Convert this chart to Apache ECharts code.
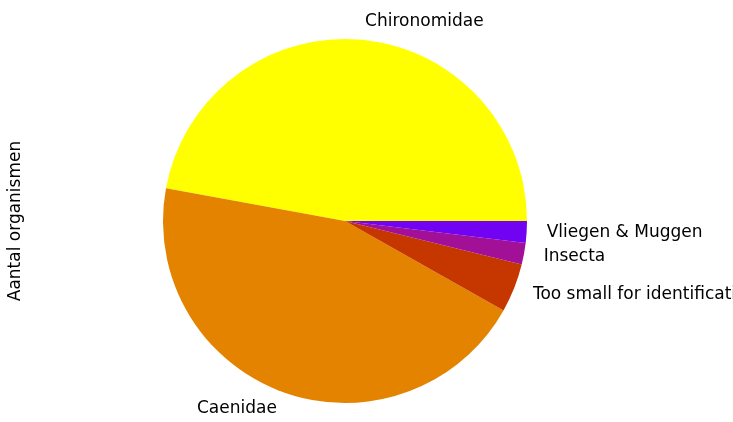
<!DOCTYPE html>
<html>
<head>
<meta charset="utf-8">
<script src="https://cdn.jsdelivr.net/npm/echarts@6/dist/echarts.min.js"></script>
<style>
  html, body { margin: 0; padding: 0; background: #fff; }
  #main { width: 733px; height: 422px; }
</style>
</head>
<body>
<div id="main"></div>
<script>
"use strict";
// taxa en aantallen
var categories = ["Chironomidae", "Caenidae", "Too small for identification", "Insecta", "Vliegen & Muggen"];
var counts = [98, 93, 9, 4, 4];
var colors = ["#ffff00", "#e48300", "#c63700", "#a11096", "#7202f2"];
var yLabel = "Aantal organismen";

var chartDom = document.getElementById('main');
var myChart = echarts.init(chartDom, null, { renderer: 'canvas' });

var pieData = categories.map(function (name, i) {
    return { name: name, value: counts[i], itemStyle: { color: colors[i] } };
});

var option = {
    animation: false,
    backgroundColor: '#ffffff',
    graphic: [{
        type: 'text',
        x: 16,
        y: 221,
        rotation: Math.PI / 2,
        style: {
            text: yLabel,
            font: '17px "DejaVu Sans"',
            fill: '#000',
            align: 'center',
            verticalAlign: 'middle'
        }
    }],
    series: [{
        type: 'pie',
        center: [345, 221],
        radius: 182,
        startAngle: 0,
        clockwise: false,
        avoidLabelOverlap: false,
        minShowLabelAngle: 0,
        data: pieData,
        itemStyle: { borderWidth: 0 },
        emphasis: { disabled: true },
        label: {
            show: true,
            position: 'outside',
            formatter: '{b}',
            fontFamily: 'DejaVu Sans',
            fontSize: 17,
            color: '#000',
            overflow: 'none',
            distanceToLabelLine: 0,
            padding: [4, 0, 0, 2]
        },
        labelLine: { show: false, length: 18, length2: 0 }
    }]
};
myChart.setOption(option);
</script>
</body>
</html>
